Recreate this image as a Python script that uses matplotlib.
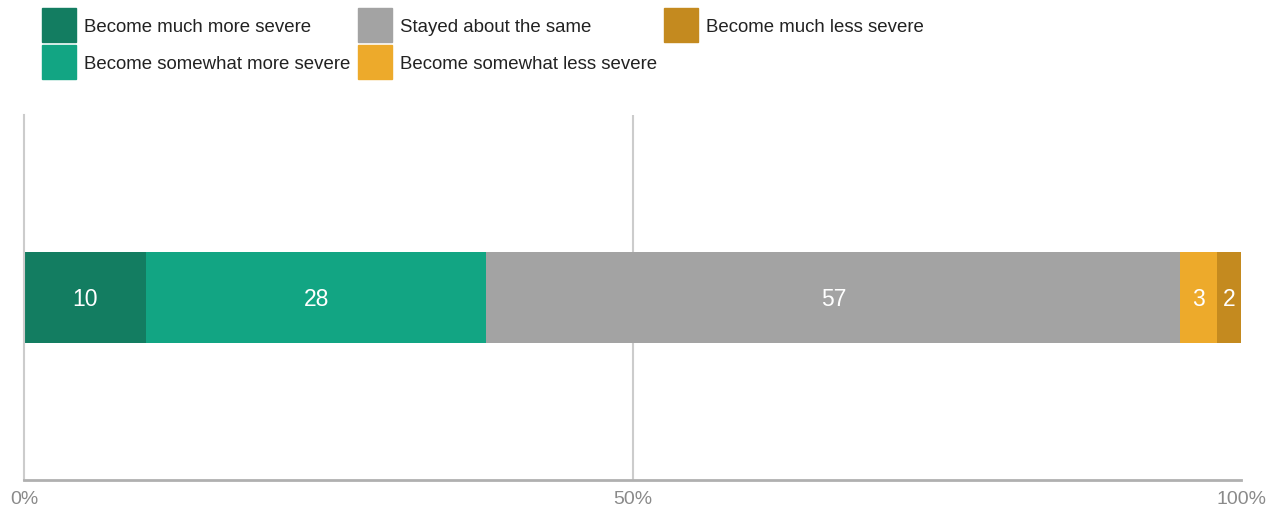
import matplotlib
matplotlib.use("Agg")
import matplotlib.pyplot as plt
from matplotlib.patches import Rectangle

categories = ["Become much more severe", "Become somewhat more severe",
              "Stayed about the same", "Become somewhat less severe",
              "Become much less severe"]
values = [10, 28, 57, 3, 2]
colors = ["#137D61", "#12A583", "#A3A3A3", "#EDAA2B", "#C48A1F"]
tick_vals = [0, 50, 100]
tick_labels = ["0%", "50%", "100%"]

plt.rcParams['font.family'] = ['Liberation Sans', 'DejaVu Sans']

fig = plt.figure(figsize=(12.7, 5.09), dpi=100)
ax = fig.add_axes([24/1270, 1-480/509, (1241-24)/1270, (480-115)/509])

left = 0
for v, c in zip(values, colors):
    ax.barh(0, v, left=left, height=0.25, color=c, edgecolor='none')
    ax.text(left + v/2, -0.005, str(v), ha='center', va='center', color='white', fontsize=16.5)
    left += v

ax.set_xlim(0, 100)
ax.set_ylim(-0.5, 0.5)
ax.set_yticks([])
ax.set_xticks(tick_vals)
ax.set_xticklabels(tick_labels, color='#8a8a8a', fontsize=14)
ax.tick_params(axis='x', length=0, pad=8)
for s in ['top', 'right']:
    ax.spines[s].set_visible(False)
ax.spines['left'].set_color('#cccccc')
ax.spines['left'].set_linewidth(1.5)
ax.spines['bottom'].set_color('#b0b0b0')
ax.spines['bottom'].set_linewidth(2)
ax.axvline(50, color='#cccccc', lw=1.5, zorder=0)

# legend (manual, column-major 3 columns x 2 rows)
col_x = [42, 358, 664]
row_y = [8, 45]
sq = 34
for i, (cat, c) in enumerate(zip(categories, colors)):
    col, row = divmod(i, 2)
    x0, y0 = col_x[col], row_y[row]
    fig.add_artist(Rectangle((x0/1270, 1-(y0+sq)/509), sq/1270, sq/509,
                             transform=fig.transFigure, color=c))
    fig.text((x0+42)/1270, 1-(y0+sq/2+2.5)/509, cat, ha='left', va='center',
             fontsize=13.4, color='#222222')

fig.savefig("out.png", dpi=100)
